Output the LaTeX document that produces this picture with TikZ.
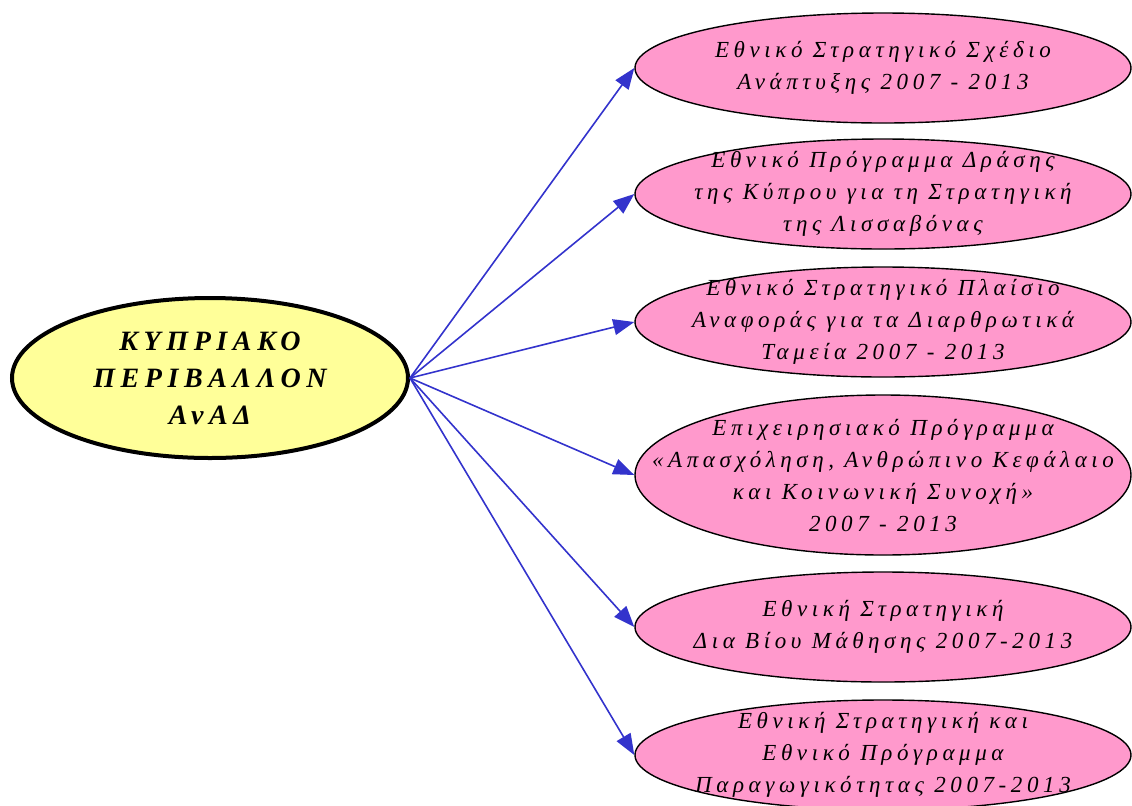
\documentclass[tikz,border=0pt]{standalone}
\usepackage{fontspec}
\setmainfont{Liberation Serif}
\newfontfamily\grfont[LetterSpace=20]{Liberation Serif}
\usepackage{tikz}
\usetikzlibrary{positioning,shapes.geometric,arrows.meta}
\definecolor{rootfill}{HTML}{FFFF99}
\definecolor{leaffill}{HTML}{FF99CC}
\definecolor{edgeblue}{HTML}{3333CC}
\tikzset{
  rootnode/.style={ellipse, draw, line width=2pt, fill=rootfill, minimum width=198pt, minimum height=80pt, inner sep=0pt},
  leafnode/.style={ellipse, draw, line width=0.7pt, fill=leaffill, minimum width=248pt, minimum height=55pt, inner sep=0pt},
  roottext/.style={align=center, inner sep=0pt, font=\grfont\bfseries\itshape\fontsize{14}{18.5}\selectfont},
  leaftext/.style={align=center, inner sep=0pt, font=\grfont\itshape\fontsize{11.5}{16}\selectfont},
  link/.style={draw=edgeblue, line width=0.8pt, -{Triangle[length=10.5pt,width=8pt]}}
}
\begin{document}
\begin{tikzpicture}
        \useasboundingbox (0,0) rectangle (566pt,-402.5pt);
        \node [rootnode] (Cyprus) at (105pt,-189pt) {};
        \node [roottext] (CyprusT) at (Cyprus) {ΚΥΠΡΙΑΚΟ\\ΠΕΡΙΒΑΛΛΟΝ\\ΑνΑΔ};

        \node [on grid, above right=155pt and 336.5pt of Cyprus, leafnode] (Dev) {};
        \node [on grid, below=63pt of Dev, leafnode] (Lisbon) {};
        \node [on grid, below=64pt of Lisbon, leafnode] (Funds) {};
        \node [on grid, below=76.5pt of Funds, leafnode, minimum height=80pt] (Employ) {};
        \node [on grid, below=76pt of Employ, leafnode] (Learn) {};
        \node [on grid, below=64pt of Learn, leafnode] (Product) {};

        \node [leaftext] (DevT) at (Dev) {Εθνικό Στρατηγικό Σχέδιο\\Ανάπτυξης 2007 - 2013};
        \node [leaftext] (LisbonT) at (Lisbon) {Εθνικό Πρόγραμμα Δράσης\\της Κύπρου για τη Στρατηγική\\της Λισσαβόνας};
        \node [leaftext] (FundsT) at (Funds) {Εθνικό Στρατηγικό Πλαίσιο\\Αναφοράς για τα Διαρθρωτικά\\Ταμεία 2007 - 2013};
        \node [leaftext] (EmployT) at (Employ) {Επιχειρησιακό Πρόγραμμα\\«Απασχόληση, Ανθρώπινο Κεφάλαιο\\και Κοινωνική Συνοχή»\\2007 - 2013};
        \node [leaftext] (LearnT) at (Learn) {Εθνική Στρατηγική\\Δια Βίου Μάθησης 2007-2013};
        \node [leaftext] (ProductT) at (Product) {Εθνική Στρατηγική και\\Εθνικό Πρόγραμμα\\Παραγωγικότητας 2007-2013};

        \foreach \leaf in {Dev,Lisbon,Funds,Employ,Learn,Product}
          \draw [link] (Cyprus.east) -- (\leaf.west);
\end{tikzpicture}
\end{document}
